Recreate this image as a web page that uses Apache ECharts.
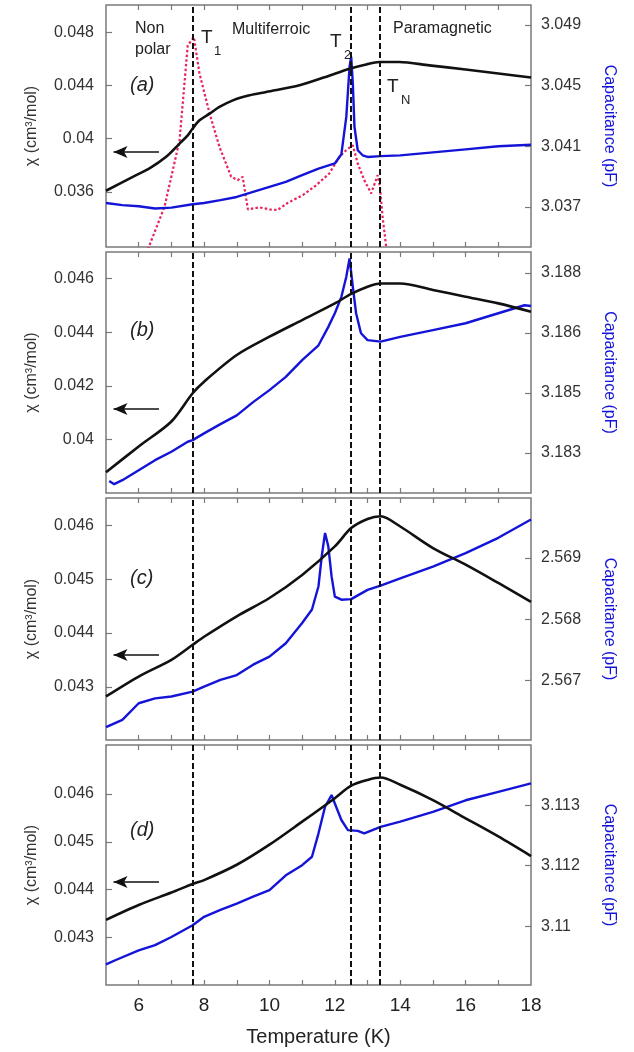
<!DOCTYPE html>
<html><head><meta charset="utf-8">
<script src="https://cdn.jsdelivr.net/npm/echarts@6/dist/echarts.min.js"></script>
<style>html,body{margin:0;padding:0;background:#fff}#c{width:634px;height:1052px}</style>
</head><body><div id="c"></div>
<script>
// ---------- DATA ----------
const T_LINES = [7.65, 12.5, 13.37];
const X_TICKS = [6,7,8,9,10,11,12,13,14,15,16,17];
const X_LABELS = [6,8,10,12,14,16,18];

// panel (a)
const aChiT = [5.0,5.82,6.33,6.84,7.25,7.5,7.65,7.86,8.17,8.47,8.88,9.39,9.9,10.92,11.94,12.45,12.96,13.36,13.97,14.89,16,17,18];
const aChi  = [0.03608,0.03713,0.03776,0.03863,0.03963,0.04025,0.04076,0.04138,0.04188,0.04238,0.04288,0.04326,0.04351,0.04401,0.04483,0.04526,0.04558,0.04576,0.04576,0.04551,0.0452,0.0449,0.0446];
const aCapT = [5,5.5,6,6.5,7,7.65,8,8.5,9,9.5,10,10.5,11,11.5,12,12.2,12.35,12.45,12.5,12.55,12.6,12.7,12.85,13,13.4,14,15,16,17,18];
const aCap  = [3.03726,3.03712,3.03705,3.0369,3.03696,3.03718,3.03726,3.03745,3.03766,3.03799,3.03832,3.03865,3.0391,3.03953,3.03987,3.04048,3.04294,3.04625,3.04691,3.04515,3.0423,3.04074,3.04041,3.0403,3.04035,3.0404,3.0406,3.0408,3.041,3.0411];
const aRedT = [6.05,6.31,6.79,7.25,7.5,7.69,7.86,8.17,8.47,8.83,9.03,9.18,9.34,9.69,10.0,10.25,10.56,11.02,11.43,11.83,12.14,12.35,12.55,12.7,12.9,13.11,13.31,13.38,13.46,13.57,13.7];
const aRed  = [0.0300,0.03185,0.03487,0.03988,0.04701,0.04763,0.04489,0.04188,0.03938,0.03713,0.03688,0.03713,0.03468,0.03483,0.03468,0.03463,0.03517,0.03575,0.0365,0.03738,0.03863,0.03913,0.0395,0.03813,0.03688,0.03588,0.03725,0.03638,0.03412,0.03187,0.0300];

// panel (b)
const bChiT = [5,6,7,7.65,8,9,10,11,12,12.5,13,13.4,14,15,16,17,18];
const bChi  = [0.03879,0.03975,0.04068,0.04173,0.04216,0.04315,0.04383,0.04445,0.04507,0.04542,0.04569,0.04581,0.04581,0.04557,0.04532,0.04507,0.04476];
const bCapT = [5.1,5.25,5.5,6,6.5,7,7.5,7.65,8,8.5,9,9.5,10,10.5,11,11.5,11.8,12,12.2,12.35,12.45,12.55,12.65,12.8,13,13.4,14,15,16,17,17.8,18];
const bCap  = [3.1823,3.18222,3.18232,3.18257,3.18282,3.18303,3.18328,3.18332,3.18349,3.18372,3.18394,3.18427,3.18457,3.1849,3.18532,3.18569,3.18615,3.18649,3.1869,3.1874,3.18786,3.18715,3.18649,3.18599,3.18582,3.18578,3.1859,3.18607,3.18624,3.18649,3.18669,3.18667];

// panel (c)
const cChiT = [5,6,7,7.65,8,9,10,11,12,12.5,13,13.4,14,15,16,17,18];
const cChi  = [0.04282,0.04319,0.0435,0.04378,0.04393,0.04431,0.04465,0.04508,0.04561,0.04595,0.04612,0.04617,0.04598,0.04558,0.04527,0.04493,0.04458];
const cCapT = [5,5.5,6,6.5,7,7.65,8,8.5,9,9.5,10,10.5,11,11.3,11.5,11.6,11.7,11.8,11.9,12.0,12.2,12.5,13,13.4,14,15,16,17,18];
const cCap  = [2.56624,2.56636,2.56663,2.56671,2.56674,2.56682,2.5669,2.56701,2.56709,2.56726,2.56739,2.56761,2.56794,2.56816,2.56854,2.56903,2.56941,2.56919,2.5687,2.56837,2.56832,2.56833,2.56848,2.56855,2.56867,2.56886,2.56908,2.56933,2.56963];

// panel (d)
const dChiT = [5,6,7,7.65,8,9,10,11,12,12.5,13,13.4,14,15,16,17,18];
const dChi  = [0.04337,0.04368,0.04394,0.04412,0.0442,0.04452,0.04494,0.04542,0.04591,0.04617,0.04629,0.04634,0.04619,0.04587,0.04549,0.04511,0.0447];
const dCapT = [5,5.3,6,6.5,7,7.65,8,8.5,9,9.5,10,10.5,11,11.3,11.5,11.7,11.9,12.0,12.2,12.4,12.7,12.9,13.4,14,15,16,17,18];
const dCap  = [3.10905,3.10916,3.1094,3.10953,3.10973,3.11002,3.11023,3.1104,3.11056,3.11073,3.11089,3.11126,3.11151,3.11172,3.1123,3.11296,3.11325,3.11304,3.11263,3.11238,3.11236,3.1123,3.11246,3.11259,3.11283,3.11312,3.11333,3.11354];

// axis ticks / labels
const leftTicks  = [[0.036,0.04,0.044,0.048],[0.04,0.042,0.044,0.046],[0.043,0.044,0.045,0.046],[0.043,0.044,0.045,0.046]];
const leftLabels = [["0.036","0.04","0.044","0.048"],["0.04","0.042","0.044","0.046"],["0.043","0.044","0.045","0.046"],["0.043","0.044","0.045","0.046"]];
const rightTicks  = [[3.037,3.041,3.045,3.049],[3.183,3.1845,3.186,3.1875],[2.567,2.568,2.569],[3.11,3.1115,3.113]];
const rightLabels = [["3.037","3.041","3.045","3.049"],["3.183","3.185","3.186","3.188"],["2.567","2.568","2.569"],["3.11","3.112","3.113"]];
const leftRange  = [[0.03185,0.05005],[0.03802,0.04698],[0.04201,0.04651],[0.04201,0.04702]];
const rightRange = [[3.03436,3.05032],[3.1820,3.18802],[2.56603,2.56998],[3.10854,3.11449]];
const arrowY = [0.039,0.04114,0.04359,0.04416];
const panelNames = ["(a)","(b)","(c)","(d)"];

// ---------- BUILD ----------
const zip = (a,b)=>a.map((x,i)=>[x,b[i]]);
const chiSets = [[aChiT,aChi],[bChiT,bChi],[cChiT,cChi],[dChiT,dChi]];
const capSets = [[aCapT,aCap],[bCapT,bCap],[cCapT,cCap],[dCapT,dCap]];

const tops = [5,252,498,745], heights = [242,241,242,240];
const GL = 106, GR = 634-531;
const FONT = '"Liberation Sans", Arial, sans-serif';
const BLUE = '#1414d8';

const grid=[], xAxis=[], yAxis=[], series=[], graphic=[];
function lab(ticks, labels){ return v=>{ for(let i=0;i<ticks.length;i++){ if(Math.abs(ticks[i]-v)<1e-7) return labels[i]; } return ''; }; }

for(let p=0;p<4;p++){
  grid.push({left:GL,right:GR,top:tops[p],height:heights[p],show:true,borderColor:'#7a7a7a',borderWidth:1.5,backgroundColor:'transparent'});
  const base = {type:'value',gridIndex:p,min:5,max:18,axisLine:{show:false},splitLine:{show:false},
    axisTick:{show:true,inside:true,length:5,customValues:X_TICKS,lineStyle:{color:'#7a7a7a',width:1.2}}};
  xAxis.push(Object.assign({},base,{position:'bottom',
    axisLabel:{show:p===3,customValues:X_LABELS,fontSize:19,color:'#222',fontFamily:FONT,margin:11},
    name:p===3?'Temperature (K)':'',nameLocation:'middle',nameGap:42,
    nameTextStyle:{fontSize:20,color:'#222',fontFamily:FONT}}));
  xAxis.push(Object.assign({},base,{position:'top',axisLabel:{show:false}}));
  yAxis.push({type:'value',gridIndex:p,position:'left',min:leftRange[p][0],max:leftRange[p][1],
    axisLine:{show:false},splitLine:{show:false},
    axisTick:{show:true,inside:true,length:6,customValues:leftTicks[p],lineStyle:{color:'#7a7a7a',width:1.2}},
    axisLabel:{customValues:leftTicks[p],formatter:lab(leftTicks[p],leftLabels[p]),fontSize:16,color:'#333',fontFamily:FONT,margin:12}});
  yAxis.push({type:'value',gridIndex:p,position:'right',min:rightRange[p][0],max:rightRange[p][1],
    axisLine:{show:false},splitLine:{show:false},
    axisTick:{show:true,inside:true,length:6,customValues:rightTicks[p],lineStyle:{color:'#7a7a7a',width:1.2}},
    axisLabel:{customValues:rightTicks[p],formatter:lab(rightTicks[p],rightLabels[p]),fontSize:16,color:'#333',fontFamily:FONT,margin:10}});

  series.push({type:'line',xAxisIndex:2*p,yAxisIndex:2*p+1,data:zip(capSets[p][0],capSets[p][1]),
    showSymbol:false,symbol:'none',lineStyle:{color:BLUE,width:2.4},z:3,animation:false,
    markLine:{silent:true,symbol:'none',animation:false,label:{show:false},
      lineStyle:{type:[6,3],color:'#111',width:2},data:T_LINES.map(t=>({xAxis:t}))}});
  series.push({type:'line',xAxisIndex:2*p,yAxisIndex:2*p,data:zip(chiSets[p][0],chiSets[p][1]),
    showSymbol:false,symbol:'none',smooth:0.3,lineStyle:{color:'#111',width:2.6},z:4,animation:false,
    markLine:{silent:true,animation:false,label:{show:false},
      lineStyle:{type:'solid',color:'#111',width:1.5},
      data:[[{coord:[5.23,arrowY[p]],symbol:'arrow',symbolSize:[9,14]},{coord:[6.62,arrowY[p]],symbol:'none'}]]}});

  const cy = tops[p]+heights[p]/2;
  graphic.push({type:'text',x:32,y:cy,rotation:Math.PI/2,style:{text:'χ (cm³/mol)',fontSize:16,fill:'#333',fontFamily:FONT,textAlign:'center',textVerticalAlign:'middle'}});
  graphic.push({type:'text',x:609,y:cy,rotation:-Math.PI/2,style:{text:'Capacitance (pF)',fontSize:16,fill:BLUE,fontFamily:FONT,textAlign:'center',textVerticalAlign:'middle'}});
  const ly = [85,330,578,830][p];
  graphic.push({type:'text',x:130,y:ly,style:{text:panelNames[p],fontSize:20,fontStyle:'italic',fill:'#222',fontFamily:FONT,textVerticalAlign:'middle'}});
}
// red dotted curve in panel (a)
series.push({type:'line',xAxisIndex:0,yAxisIndex:0,data:zip(aRedT,aRed),showSymbol:false,symbol:'none',
  lineStyle:{color:'#e8245a',width:2.2,type:[2.5,2.2]},z:2,animation:false,clip:true});

// annotations in panel (a)
const ann = [
  ['Non',135,29,16],['polar',135,50,16],['Multiferroic',232,30,16],['Paramagnetic',393,29,16],
  ['T',201,38,19],['1',214,51,13],['T',330,42,19],['2',344,55,13],['T',387,87,19],['N',401,100,13]
];
ann.forEach(a=>graphic.push({type:'text',x:a[1],y:a[2],z:10,style:{text:a[0],fontSize:a[3],fill:'#222',fontFamily:FONT,textVerticalAlign:'middle'}}));

const chart = echarts.init(document.getElementById('c'),null,{renderer:'canvas'});
chart.setOption({animation:false,backgroundColor:'#fff',grid,xAxis,yAxis,series,graphic});
</script></body></html>
